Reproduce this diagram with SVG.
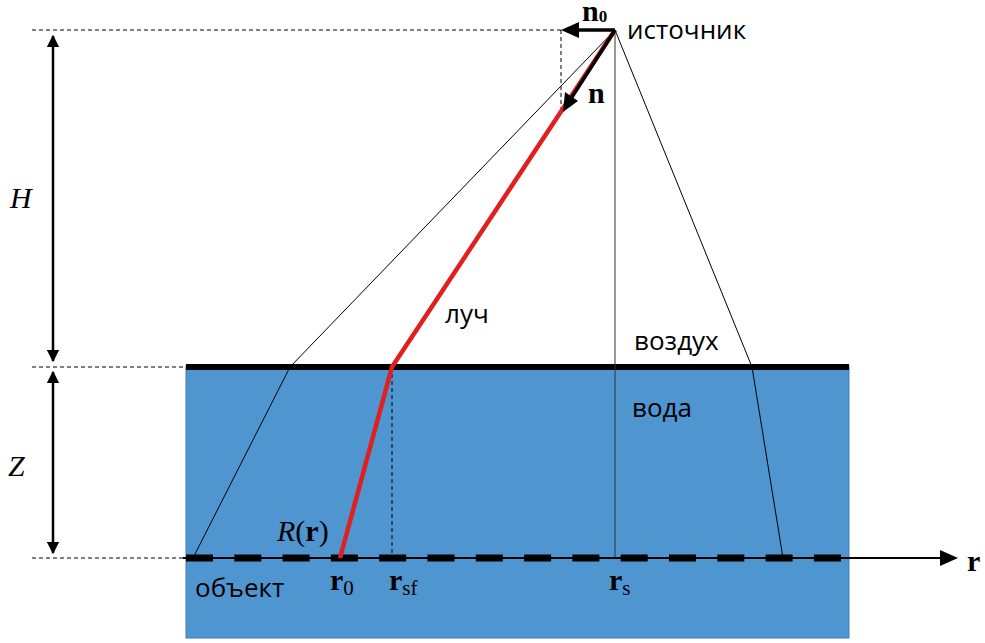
<svg xmlns="http://www.w3.org/2000/svg" width="985" height="643" viewBox="0 0 985 643">
<defs>
<style>
.lbl{font-family:"Open Sans","Liberation Sans",sans-serif;font-size:26px;fill:#000}
.math{font-family:"Liberation Serif",serif;font-size:30px;fill:#000}
.thin{stroke:#000;stroke-width:1;fill:none}
.dash{stroke:#000;stroke-width:1;stroke-dasharray:4 3;fill:none}
</style>
<marker id="ah" viewBox="0 0 10 10" refX="9" refY="5" markerWidth="5" markerHeight="5" orient="auto-start-reverse" markerUnits="strokeWidth">
<path d="M0,0 L10,5 L0,10 z" fill="#000"/>
</marker>
</defs>
<rect width="985" height="643" fill="#fff"/>
<g id="water">
<rect x="186" y="366" width="663" height="272" fill="#4f95d0" stroke="#3d7fb8" stroke-width="1"/>
<line x1="186" y1="367" x2="849" y2="367" stroke="#000" stroke-width="6"/>
</g>
<g id="connectors">
<line class="dash" x1="32" y1="30" x2="562" y2="30"/>
<line class="dash" x1="32" y1="367" x2="186" y2="367"/>
<line class="dash" x1="32" y1="558" x2="186" y2="558"/>
<line class="dash" x1="561" y1="30" x2="561" y2="110"/>
<line class="dash" x1="392" y1="367" x2="392" y2="556"/>
<line x1="53" y1="36" x2="53" y2="361" stroke="#000" stroke-width="2.5" marker-start="url(#ah)" marker-end="url(#ah)"/>
<line x1="53" y1="372" x2="53" y2="553" stroke="#000" stroke-width="2.5" marker-start="url(#ah)" marker-end="url(#ah)"/>
<polyline class="thin" points="615,30 290,367 193,558"/>
<polyline class="thin" points="615,30 752,367 783,558"/>
<line x1="615" y1="30" x2="615" y2="558" stroke="#333" stroke-width="1"/>
<line x1="183" y1="558" x2="945" y2="558" stroke="#000" stroke-width="2"/>
<path d="M940,550 L958,558 L940,566 z" fill="#000"/>
<line x1="186" y1="558" x2="849" y2="558" stroke="#000" stroke-width="7" stroke-dasharray="27 21.3"/>
<polyline points="615,30 392,367 340,558" fill="none" stroke="#e02020" stroke-width="4.5" stroke-linejoin="miter"/>
<line x1="615" y1="30" x2="572" y2="97" stroke="#000" stroke-width="3.5"/>
<path d="M563,112 L565,92 L578,101 z" fill="#000"/>
<line x1="615" y1="30" x2="575" y2="30" stroke="#000" stroke-width="3.5"/>
<path d="M561,30 L579,22 L579,38 z" fill="#000"/>
</g>
<g id="labels">
<text class="math" x="582" y="21" font-size="23" font-weight="bold">n<tspan font-size="17" dy="1">0</tspan></text>
<text class="math" x="10" y="208" font-style="italic">H</text>
<text class="math" x="8" y="476" font-style="italic">Z</text>
<text class="math" x="588" y="103" font-weight="bold">n</text>
<text class="lbl" x="627" y="39">источник</text>
<text class="lbl" x="445" y="323">луч</text>
<text class="lbl" x="634" y="350">воздух</text>
<text class="lbl" x="632" y="417">вода</text>
<text class="math" x="277" y="541"><tspan font-style="italic">R</tspan>(<tspan font-weight="bold">r</tspan>)</text>
<text class="lbl" x="195" y="597">объект</text>
<text class="math" x="330" y="590" font-weight="bold">r<tspan font-size="21" font-weight="normal" dy="5">0</tspan></text>
<text class="math" x="389" y="590" font-weight="bold">r<tspan font-size="21" font-weight="normal" dy="5">sf</tspan></text>
<text class="math" x="609" y="590" font-weight="bold">r<tspan font-size="21" font-weight="normal" dy="5">s</tspan></text>
<text class="math" x="967" y="571" font-weight="bold">r</text>
</g>
</svg>
